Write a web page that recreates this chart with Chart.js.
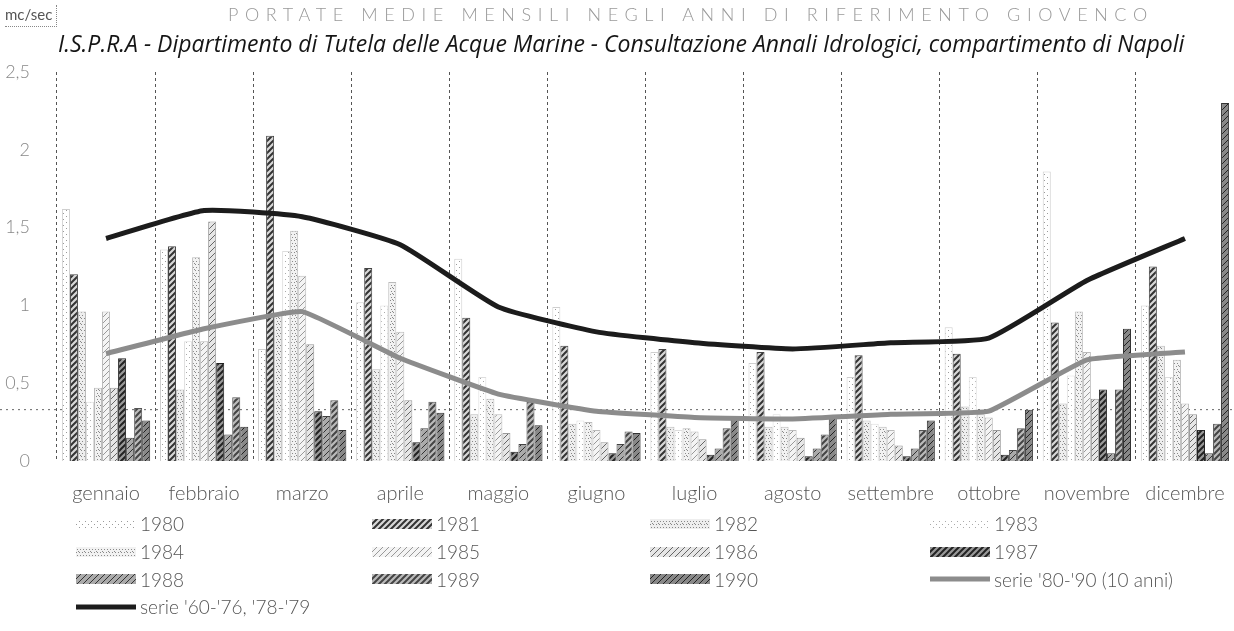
<!DOCTYPE html>
<html>
<head>
<meta charset="utf-8">
<script src="https://cdn.jsdelivr.net/npm/chart.js@4"></script>
<style>
  body { margin: 0; background: #fff; width: 1234px; height: 631px; overflow: hidden; position: relative; font-family: Lato, "Open Sans", sans-serif; }
  #wrap { position: absolute; left: 0; top: 0; width: 1234px; height: 533px; }
  #unit { position: absolute; left: 5px; top: 5px; font-size: 15px; color: #555; padding: 0 4px 3px 0; border-right: 1px dotted #888; border-bottom: 1px dotted #888; }
  #title { position: absolute; left: 228px; top: 3px; font-size: 18px; font-weight: 300; letter-spacing: 6.6px; color: #999; white-space: nowrap; }
  #subtitle { position: absolute; left: 58px; top: 27px; font-family: "Open Sans"; font-size: 23px; font-style: italic; color: #151515; white-space: nowrap; }
  #legend { position: absolute; left: 76px; top: 510px; display: grid; grid-template-columns: 296px 278px 280px 300px; grid-auto-rows: 27.7px; }
  .item { display: flex; align-items: center; font-size: 19px; color: #555; font-weight: 300; }
  .item canvas { margin-right: 4px; }
</style>
</head>
<body>
<div id="wrap"><canvas id="graph"></canvas></div>
<div id="unit">mc/sec</div>
<div id="title">PORTATE MEDIE MENSILI NEGLI ANNI DI RIFERIMENTO GIOVENCO</div>
<div id="subtitle">I.S.P.R.A - Dipartimento di Tutela delle Acque Marine - Consultazione Annali Idrologici, compartimento di Napoli</div>
<div id="legend"></div>
<script>
var months = ["gennaio", "febbraio", "marzo", "aprile", "maggio", "giugno", "luglio", "agosto", "settembre", "ottobre", "novembre", "dicembre"];
var years = ["1980", "1981", "1982", "1983", "1984", "1985", "1986", "1987", "1988", "1989", "1990"];

// portate mensili per anno (mc/sec), una riga per mese
var jan = [1.62, 1.20, 0.96, 0.38, 0.47, 0.96, 0.47, 0.66, 0.15, 0.34, 0.26];
var feb = [1.36, 1.38, 0.46, 0.77, 1.31, 0.77, 1.54, 0.63, 0.17, 0.41, 0.22];
var mar = [0.72, 2.09, 0.95, 1.35, 1.48, 1.19, 0.75, 0.32, 0.29, 0.39, 0.20];
var apr = [1.02, 1.24, 0.59, 1.00, 1.15, 0.83, 0.39, 0.12, 0.21, 0.38, 0.31];
var may = [1.30, 0.92, 0.30, 0.54, 0.40, 0.30, 0.18, 0.06, 0.11, 0.38, 0.23];
var jun = [0.99, 0.74, 0.24, 0.26, 0.25, 0.20, 0.12, 0.05, 0.11, 0.19, 0.18];
var jul = [0.70, 0.72, 0.22, 0.20, 0.21, 0.19, 0.14, 0.04, 0.08, 0.21, 0.28];
var aug = [0.63, 0.70, 0.22, 0.30, 0.22, 0.20, 0.15, 0.03, 0.08, 0.17, 0.28];
var sep = [0.54, 0.68, 0.26, 0.24, 0.22, 0.20, 0.10, 0.03, 0.08, 0.20, 0.26];
var oct = [0.86, 0.69, 0.35, 0.54, 0.30, 0.28, 0.20, 0.04, 0.07, 0.21, 0.33];
var nov = [1.86, 0.89, 0.37, 0.55, 0.96, 0.70, 0.40, 0.46, 0.05, 0.46, 0.85];
var dec = [1.00, 1.25, 0.74, 0.54, 0.65, 0.37, 0.30, 0.20, 0.05, 0.24, 2.30];

var serie6079 = [1.43, 1.61, 1.57, 1.39, 0.99, 0.83, 0.76, 0.72, 0.76, 0.79, 1.16, 1.43];
var serie8090 = [0.69, 0.85, 0.96, 0.66, 0.43, 0.32, 0.28, 0.27, 0.30, 0.32, 0.65, 0.70];
var dmvLine = 0.33;

var byMonth = [jan, feb, mar, apr, may, jun, jul, aug, sep, oct, nov, dec];

function makePattern(bg, fg, kind) {
    var c = document.createElement("canvas");
    c.width = 6; c.height = 6;
    var x = c.getContext("2d");
    x.fillStyle = bg;
    x.fillRect(0, 0, 6, 6);
    x.fillStyle = fg;
    x.strokeStyle = fg;
    if (kind === "dots") {
        x.fillRect(0, 0, 1, 1); x.fillRect(3, 3, 1, 1);
    } else if (kind === "dense") {
        x.fillRect(0, 0, 1, 1); x.fillRect(3, 0, 1, 1); x.fillRect(1, 3, 1, 1); x.fillRect(4, 3, 1, 1); x.fillRect(2, 5, 1, 1);
    } else {
        x.lineWidth = kind === "bold" ? 2 : 1;
        x.beginPath();
        x.moveTo(0, 6); x.lineTo(6, 0);
        x.moveTo(-3, 3); x.lineTo(3, -3);
        x.moveTo(3, 9); x.lineTo(9, 3);
        x.stroke();
    }
    return document.createElement("canvas").getContext("2d").createPattern(c, "repeat");
}

var barStyles = [
    { fill: makePattern("#fff", "#9a9a9a", "dots"), border: "#cfcfcf" },
    { fill: makePattern("#d8d8d8", "#333", "bold"), border: "#444" },
    { fill: makePattern("#eee", "#888", "dense"), border: "#bbb" },
    { fill: makePattern("#fff", "#aaa", "dots"), border: "#ddd" },
    { fill: makePattern("#f2f2f2", "#8a8a8a", "dense"), border: "#bbb" },
    { fill: makePattern("#f4f4f4", "#999", "diag"), border: "#bbb" },
    { fill: makePattern("#e6e6e6", "#666", "diag"), border: "#999" },
    { fill: makePattern("#999", "#222", "bold"), border: "#222" },
    { fill: makePattern("#aaa", "#333", "diag"), border: "#444" },
    { fill: makePattern("#bbb", "#444", "bold"), border: "#555" },
    { fill: makePattern("#888", "#222", "diag"), border: "#333" }
];

var datasets = years.map(function (y, i) {
    return {
        type: "bar",
        label: y,
        data: byMonth.map(function (m) { return m[i]; }),
        backgroundColor: barStyles[i].fill,
        borderColor: barStyles[i].border,
        borderWidth: 1,
        categoryPercentage: 0.9,
        barPercentage: 1.0,
        order: 2
    };
});
datasets.push({
    type: "line", label: "serie '80-'90 (10 anni)", data: serie8090,
    borderColor: "#8c8c8c", borderWidth: 5, tension: 0.1, pointRadius: 0, order: 1
});
datasets.push({
    type: "line", label: "serie '60-'76, '78-'79", data: serie6079,
    borderColor: "#1c1c1c", borderWidth: 5, tension: 0.15, pointRadius: 0, order: 0
});

var dmvPlugin = {
    id: "dmv",
    beforeDatasetsDraw: function (chart) {
        var ctx = chart.ctx;
        var py = chart.scales.y.getPixelForValue(dmvLine);
        ctx.save();
        ctx.strokeStyle = "#666";
        ctx.lineWidth = 1;
        ctx.setLineDash([2, 4]);
        ctx.beginPath();
        ctx.moveTo(0, py);
        ctx.lineTo(chart.width, py);
        ctx.stroke();
        ctx.restore();
    }
};

var chart = new Chart(document.getElementById("graph"), {
    data: { labels: months, datasets: datasets },
    options: {
        responsive: true,
        maintainAspectRatio: false,
        animation: false,
        layout: { padding: { left: 5, right: -2, top: 72, bottom: 6 } },
        plugins: { legend: { display: false }, tooltip: { enabled: false } },
        scales: {
            x: {
                afterFit: function (s) { s.paddingRight = 0; s.paddingLeft = 0; },
                grid: { color: "#555", lineWidth: 1, drawTicks: false },
                border: { display: false, dash: [3, 3] },
                ticks: { color: "#555", font: { family: "Lato", size: 20, weight: 300 }, padding: 21, maxRotation: 0, autoSkip: false }
            },
            y: {
                min: 0, max: 2.5,
                afterFit: function (s) { s.width = 52; },
                grid: { display: false, drawTicks: false },
                border: { display: false },
                ticks: {
                    stepSize: 0.5, padding: 27, color: "#888",
                    font: { family: "Lato", size: 18, weight: 300 },
                    callback: function (v) { return String(v).replace(".", ","); }
                }
            }
        }
    },
    plugins: [dmvPlugin]
});

// legenda a colonne
var legend = document.getElementById("legend");
datasets.forEach(function (ds) {
    var item = document.createElement("div");
    item.className = "item";
    var sw = document.createElement("canvas");
    sw.width = 60; sw.height = 12;
    var c = sw.getContext("2d");
    if (ds.type === "bar") {
        c.fillStyle = ds.backgroundColor;
        c.fillRect(0, 1, 60, 10);
    } else {
        c.strokeStyle = ds.borderColor;
        c.lineWidth = 5;
        c.beginPath(); c.moveTo(0, 6); c.lineTo(60, 6); c.stroke();
    }
    item.appendChild(sw);
    var t = document.createElement("span");
    t.textContent = ds.label;
    item.appendChild(t);
    legend.appendChild(item);
});
</script>
</body>
</html>
